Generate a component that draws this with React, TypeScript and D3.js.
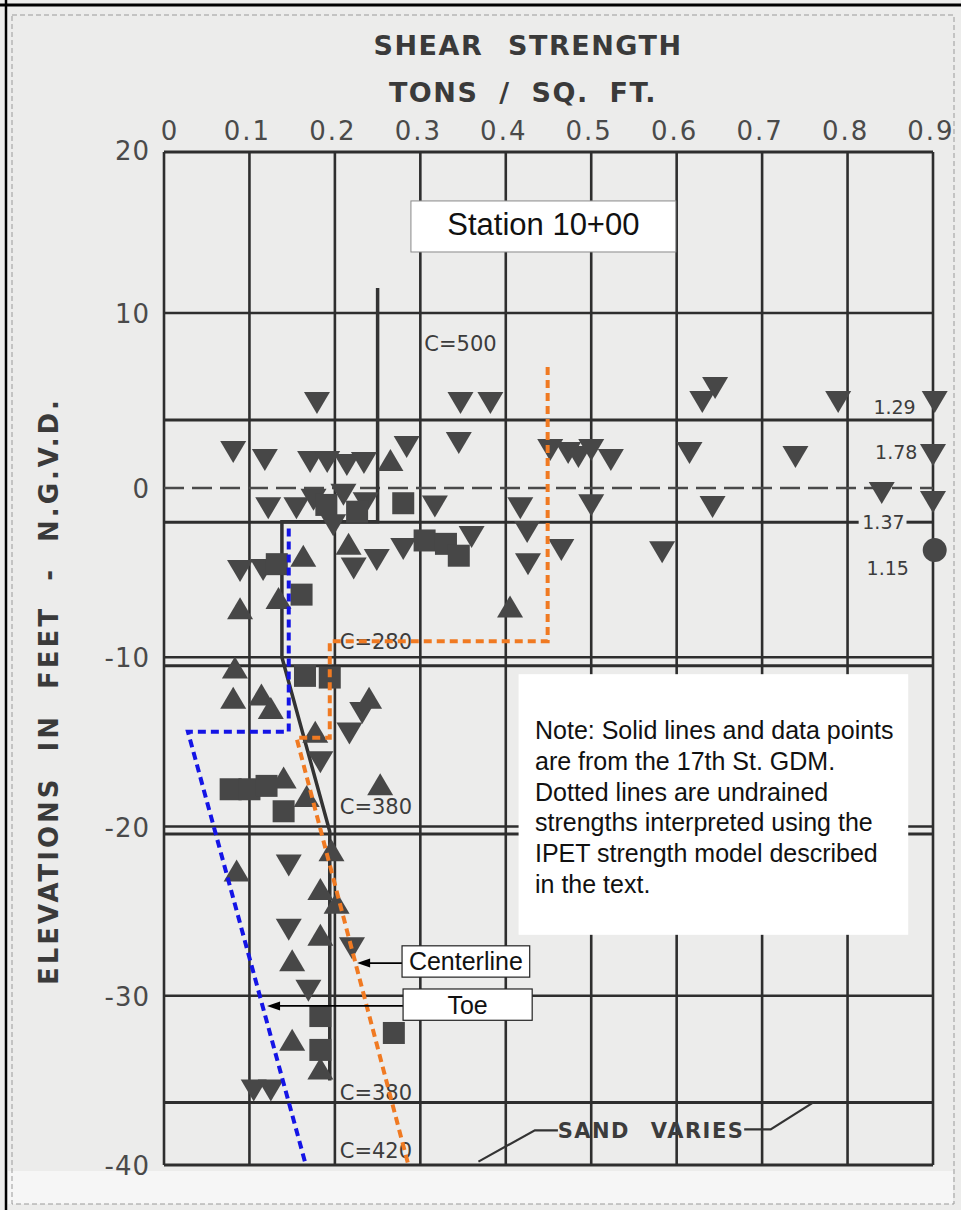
import React from "react";
import * as d3 from "d3";

// strength ticks (tons / sq. ft.) and elevation ticks (feet)
const xTicks = [0, 0.1, 0.2, 0.3, 0.4, 0.5, 0.6, 0.7, 0.8, 0.9];
const xTickLabels = ["0", "0.1", "0.2", "0.3", "0.4", "0.5", "0.6", "0.7", "0.8", "0.9"];
const yTicks = [20, 10, 0, -10, -20, -30, -40];
const yTickLabels = ["20", "10", "0", "-10", "-20", "-30", "-40"];

// soil layer boundaries (elevation)
const layerLines = [3.89, -2.02, -10.5, -20.45, -36.3];

// data points [strength, elevation]
const downTri: [number, number][] = [
  [0.179, 4.86], [0.347, 4.86], [0.382, 4.86], [0.63, 4.91], [0.645, 5.71], [0.789, 4.91], [0.902, 4.91],
  [0.081, 2.06], [0.118, 1.6], [0.171, 1.49], [0.191, 1.49], [0.214, 1.31], [0.234, 1.43], [0.284, 2.34],
  [0.345, 2.57], [0.452, 2.17], [0.473, 2.0], [0.485, 1.77], [0.5, 2.17], [0.523, 1.6], [0.615, 2.0],
  [0.739, 1.77], [0.9, 1.89],
  [0.122, -1.2], [0.155, -1.2], [0.175, -0.7], [0.21, -0.4], [0.236, -0.9], [0.198, -2.2], [0.317, -1.1],
  [0.417, -1.2], [0.425, -2.6], [0.5, -1.02], [0.642, -1.12], [0.84, -0.3], [0.9, -0.83],
  [0.222, -4.75], [0.249, -4.25], [0.28, -3.6], [0.36, -2.9], [0.426, -4.5], [0.465, -3.67], [0.583, -3.79],
  [0.089, -4.9], [0.116, -4.85],
  [0.232, -13.3], [0.217, -14.5], [0.183, -16.2], [0.146, -22.3], [0.146, -26.1], [0.22, -27.2],
  [0.169, -29.7], [0.105, -35.6], [0.125, -35.6],
];
const upTri: [number, number][] = [
  [0.265, 1.6], [0.163, -4.0], [0.216, -3.3], [0.089, -7.1], [0.134, -6.5], [0.405, -7.0],
  [0.083, -10.6], [0.081, -12.4], [0.114, -12.2], [0.125, -13.0], [0.24, -12.4], [0.177, -14.4],
  [0.253, -17.5], [0.14, -17.1], [0.167, -18.2],
  [0.085, -22.6], [0.196, -21.4], [0.183, -23.7], [0.202, -24.5], [0.183, -26.4], [0.15, -27.9],
  [0.15, -32.6], [0.183, -34.3],
];
const squares: [number, number][] = [
  [0.19, -1.0], [0.226, -1.4], [0.28, -0.9], [0.305, -3.1], [0.33, -3.3], [0.345, -4.0], [0.132, -4.5],
  [0.161, -6.3], [0.165, -11.1], [0.194, -11.2], [0.078, -17.8], [0.1, -17.8], [0.12, -17.6], [0.14, -19.1],
  [0.183, -31.2], [0.183, -33.2], [0.269, -32.2],
];
const circles: [number, number][] = [[0.902, -3.67]];

// GDM design strength line (solid) and IPET interpreted strengths (dotted)
const gdmLine: [number, number][] = [[0.25, 11.55], [0.25, -2], [0.138, -2], [0.138, -10], [0.194, -20.3], [0.194, -35]];
const toeLine: [number, number][] = [[0.146, -2.4], [0.146, -14.4], [0.028, -14.4], [0.166, -40]];
const centerLine: [number, number][] = [[0.449, 6.91], [0.449, -9.05], [0.194, -9.05], [0.194, -14.75], [0.155, -14.75], [0.286, -40]];

// cohesion labels and ratio labels [strength, elevation, text]
const cLabels: [number, number, string][] = [
  [0.347, 8.29, "C=500"], [0.248, -9.05, "C=280"], [0.248, -18.8, "C=380"],
  [0.248, -35.7, "C=380"], [0.248, -39.1, "C=420"],
];
const ratioLabels: [number, number, string][] = [
  [0.855, 4.63, "1.29"], [0.857, 2.06, "1.78"], [0.842, -2.02, "1.37"], [0.847, -4.74, "1.15"],
];

const noteLines = [
  "Note: Solid lines and data points",
  "are from the 17th St. GDM.",
  "Dotted lines are undrained",
  "strengths interpreted using the",
  "IPET strength model described",
  "in the text.",
];

const W = 961;
const H = 1210;
const x = d3.scaleLinear().domain([0, 0.9]).range([164, 933]);
const y = d3.scaleLinear().domain([20, 10, 0, -40]).range([152, 313, 488, 1165]);

const scanFont = "'DejaVu Sans', sans-serif";
const helv = "'Liberation Sans', Arial, sans-serif";
const ink = "#2e2e2e";
const markFill = "#474747";

const line = d3.line<[number, number]>().x(d => x(d[0])).y(d => y(d[1]));

const Arrow = ({ x0, x1, yy }: { x0: number; x1: number; yy: number }) => (
  <g>
    <line x1={x0} x2={x1 + 8} y1={yy} y2={yy} stroke="#000" strokeWidth={1.6} />
    <polygon points={`${x1},${yy} ${x1 + 13},${yy - 4.5} ${x1 + 13},${yy + 4.5}`} fill="#000" />
  </g>
);

export default function App() {
  const xl = x(0), xr = x(0.9), yt = y(20), yb = y(-40);
  const plain = (e: number) => layerLines.includes(e);
  return (
    <svg width={W} height={H} style={{ position: "absolute", left: 0, top: 0, display: "block" }}>
      <rect x={0} y={0} width={W} height={H} fill="#ececeb" />
      <rect x={8} y={yb + 6} width={W - 16} height={H - yb - 12} fill="#f6f6f6" />
      <line x1={0} x2={W} y1={5} y2={5} stroke="#000" strokeWidth={3} />
      <line x1={6} x2={6} y1={0} y2={H} stroke="#000" strokeWidth={2.5} />
      <rect x={12} y={15} width={W - 19} height={H - 21} fill="none" stroke="#9a9a9a" strokeWidth={1} strokeDasharray="5 3" />

      {/* titles */}
      <text x={528} y={55} textAnchor="middle" fontFamily={scanFont} fontWeight="bold" fontSize={27}
        fill="#3a3a3a" style={{ letterSpacing: "1.5px", wordSpacing: "14px" }}>SHEAR STRENGTH</text>
      <text x={523} y={102} textAnchor="middle" fontFamily={scanFont} fontWeight="bold" fontSize={27}
        fill="#3a3a3a" style={{ letterSpacing: "1.5px", wordSpacing: "10px" }}>TONS / SQ. FT.</text>
      <text transform="translate(58,691) rotate(-90)" textAnchor="middle" fontFamily={scanFont} fontWeight="bold"
        fontSize={26} fill="#3a3a3a" style={{ letterSpacing: "3px", wordSpacing: "13px" }}>ELEVATIONS IN FEET - N.G.V.D.</text>

      {/* tick labels */}
      {xTicks.map((t, i) => (
        <text key={"xt" + i} x={i === 0 ? x(t) + 6 : x(t) - 2} y={140} textAnchor="middle" fontFamily={scanFont}
          fontSize={26} fill="#4a4a4a" style={{ letterSpacing: "2px" }}>{xTickLabels[i]}</text>
      ))}
      {yTicks.map((t, i) => (
        <text key={"yt" + i} x={150} y={i === 0 ? y(t) + 8 : y(t) + 10} textAnchor="end" fontFamily={scanFont}
          fontSize={26} fill="#4a4a4a" style={{ letterSpacing: "1px" }}>{yTickLabels[i]}</text>
      ))}

      {/* grid */}
      {xTicks.map((t, i) => (
        <line key={"gx" + i} x1={x(t)} x2={x(t)} y1={yt} y2={yb} stroke={ink} strokeWidth={2.6} />
      ))}
      {yTicks.map((t, i) => (
        <line key={"gy" + i} x1={xl} x2={xr} y1={y(t)} y2={y(t)} stroke={t === 0 ? "#4a4a4a" : ink}
          strokeWidth={t === 20 || t === -40 ? 3.2 : 2.4} strokeDasharray={t === 0 ? "20 8" : undefined} />
      ))}
      {layerLines.map((e, i) =>
        e === -2.02 ? (
          <g key={"ll" + i}>
            <line x1={xl} x2={x(0.813)} y1={y(e)} y2={y(e)} stroke={ink} strokeWidth={3} />
            <line x1={x(0.869)} x2={xr} y1={y(e)} y2={y(e)} stroke={ink} strokeWidth={3} />
          </g>
        ) : (
          <line key={"ll" + i} x1={xl} x2={xr} y1={y(e)} y2={y(e)} stroke={ink} strokeWidth={plain(e) ? 3 : 2} />
        )
      )}

      {/* station label */}
      <rect x={x(0.289)} y={y(16.96)} width={x(0.599) - x(0.289)} height={y(13.79) - y(16.96)} fill="#fff"
        stroke="#8a8a8a" strokeWidth={1} />
      <text x={(x(0.289) + x(0.599)) / 2} y={y(14.85)} textAnchor="middle" fontFamily={helv} fontSize={31}
        fill="#111">Station 10+00</text>

      {/* note */}
      <rect x={x(0.415)} y={y(-11.0)} width={x(0.871) - x(0.415)} height={y(-26.4) - y(-11.0)} fill="#fff" />
      {noteLines.map((s, i) => (
        <text key={"n" + i} x={535} y={739 + i * 30.8} fontFamily={helv} fontSize={25} fill="#111"
          textLength={undefined}>{s}</text>
      ))}

      {/* solid GDM line */}
      <path d={line(gdmLine) || ""} fill="none" stroke="#333" strokeWidth={3.5} />

      {/* markers */}
      {downTri.map((d, i) => (
        <polygon key={"d" + i} transform={`translate(${x(d[0])},${y(d[1])})`} points="-13,-11 13,-11 0,11" fill={markFill} />
      ))}
      {upTri.map((d, i) => (
        <polygon key={"u" + i} transform={`translate(${x(d[0])},${y(d[1])})`} points="-13,11 13,11 0,-11" fill={markFill} />
      ))}
      {squares.map((d, i) => (
        <rect key={"s" + i} x={x(d[0]) - 11} y={y(d[1]) - 11} width={22} height={22} fill={markFill} />
      ))}
      {circles.map((d, i) => (
        <circle key={"c" + i} cx={x(d[0])} cy={y(d[1])} r={12} fill={markFill} />
      ))}

      {/* labels on the chart */}
      {cLabels.map((d, i) => (
        <text key={"cl" + i} x={x(d[0])} y={y(d[1]) + 8} textAnchor="middle" fontFamily={scanFont} fontSize={21}
          fill="#3c3c3c">{d[2]}</text>
      ))}
      {ratioLabels.map((d, i) => (
        <text key={"rl" + i} x={x(d[0])} y={y(d[1]) + 7} textAnchor="middle" fontFamily={scanFont} fontSize={19}
          fill="#3c3c3c">{d[2]}</text>
      ))}

      {/* sand varies */}
      <path d={line([[0.461, -37.95], [0.434, -37.95], [0.368, -39.8]]) || ""} fill="none" stroke="#333" strokeWidth={2.2} />
      <path d={line([[0.679, -37.9], [0.71, -37.9], [0.76, -36.3]]) || ""} fill="none" stroke="#333" strokeWidth={2.2} />
      <text x={(x(0.466) + x(0.674)) / 2} y={y(-37.95) + 8} textAnchor="middle" fontFamily={scanFont}
        fontWeight="bold" fontSize={21} fill="#3c3c3c" style={{ letterSpacing: "1.5px", wordSpacing: "12px" }}>SAND VARIES</text>

      {/* dotted interpreted strengths */}
      <path d={line(toeLine) || ""} fill="none" stroke="#1414e6" strokeWidth={4} strokeDasharray="8 5" />
      <path d={line(centerLine) || ""} fill="none" stroke="#f07a22" strokeWidth={4} strokeDasharray="8 5" />

      {/* callouts */}
      <Arrow x0={x(0.2786)} x1={x(0.226)} yy={y(-28.07)} />
      <Arrow x0={x(0.2798)} x1={x(0.1206)} yy={y(-30.6)} />
      <rect x={x(0.2786)} y={y(-27.05)} width={x(0.428) - x(0.2786)} height={y(-28.9) - y(-27.05)} fill="#fff"
        stroke="#222" strokeWidth={1.2} />
      <text x={(x(0.2786) + x(0.428)) / 2} y={y(-28.5)} textAnchor="middle" fontFamily={helv} fontSize={25}
        fill="#111">Centerline</text>
      <rect x={x(0.2798)} y={y(-29.6)} width={x(0.4309) - x(0.2798)} height={y(-31.45) - y(-29.6)} fill="#fff"
        stroke="#222" strokeWidth={1.2} />
      <text x={(x(0.2798) + x(0.4309)) / 2} y={y(-31.05)} textAnchor="middle" fontFamily={helv} fontSize={25}
        fill="#111">Toe</text>
    </svg>
  );
}
